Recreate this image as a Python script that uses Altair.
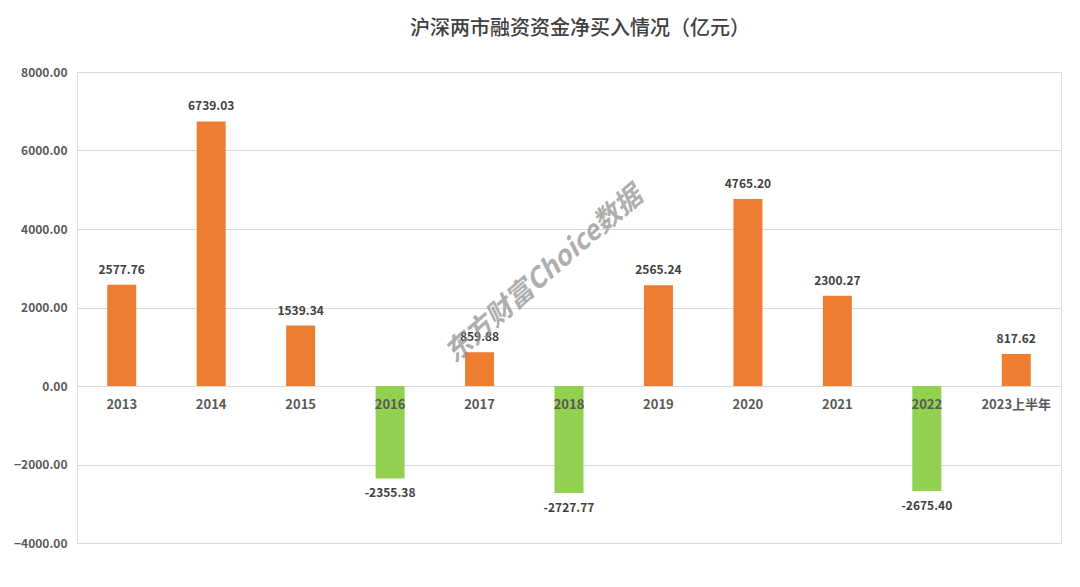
import altair as alt
import pandas as pd

categories = ["2013", "2014", "2015", "2016", "2017", "2018", "2019", "2020", "2021", "2022", "2023上半年"]
values = [2577.76, 6739.03, 1539.34, -2355.38, 859.88, -2727.77, 2565.24, 4765.20, 2300.27, -2675.40, 817.62]
y_ticks = [-4000, -2000, 0, 2000, 4000, 6000, 8000]

df = pd.DataFrame({"cat": categories, "val": values})
df["label"] = df["val"].map(lambda v: f"{v:.2f}")
df["sign"] = df["val"].map(lambda v: "pos" if v >= 0 else "neg")

FONT = "Noto Sans CJK SC"
x = alt.X("cat:N", sort=categories, axis=None,
          scale=alt.Scale(paddingInner=0, paddingOuter=0))

base = alt.Chart(df)

bars = base.mark_bar(size=29).encode(
    x=x,
    y=alt.Y("val:Q", scale=alt.Scale(domain=[-4000, 8000], nice=False, zero=True),
            axis=alt.Axis(values=y_ticks, format=".2f", title=None, domain=False, ticks=False,
                          labelPadding=10, labelFontSize=12, labelFontWeight="bold",
                          labelColor="#595959", labelFont=FONT,
                          gridColor="#D9D9D9", gridWidth=1)),
    color=alt.Color("sign:N", scale=alt.Scale(domain=["pos", "neg"], range=["#ED7D31", "#92D050"]),
                    legend=None),
)

pos_labels = base.transform_filter(alt.datum.val >= 0).mark_text(
    dy=-15, fontSize=12, fontWeight="bold", color="#404040", font=FONT, baseline="middle"
).encode(x=x, y="val:Q", text="label:N")

neg_labels = base.transform_filter(alt.datum.val < 0).mark_text(
    dy=15, fontSize=12, fontWeight="bold", color="#404040", font=FONT, baseline="middle"
).encode(x=x, y="val:Q", text="label:N")

cat_labels = base.mark_text(
    dy=19, fontSize=13, fontWeight="bold", color="#595959", font=FONT, baseline="middle"
).encode(x=x, y=alt.datum(0), text="cat:N")

watermark = alt.Chart(pd.DataFrame({"t": ["东方财富Choice数据"]})).mark_text(
    angle=319, fontSize=27, fontWeight="bold", fontStyle="italic", color="#8C8C8C",
    opacity=0.7, font=FONT
).encode(x=alt.value(467), y=alt.value(203), text="t:N")

chart = alt.layer(bars, pos_labels, neg_labels, cat_labels, watermark).properties(
    width=984, height=471,
    title=alt.TitleParams("沪深两市融资资金净买入情况（亿元）", fontSize=20, fontWeight=500,
                          color="#404040", font=FONT, offset=27, dx=11),
    autosize=alt.AutoSizeParams(type="none"),
    padding={"left": 69, "top": 64, "right": 10, "bottom": 30},
).configure_view(stroke=None).configure(background="white")

chart.save("out.html", embed_options={"renderer": "svg", "actions": False})
